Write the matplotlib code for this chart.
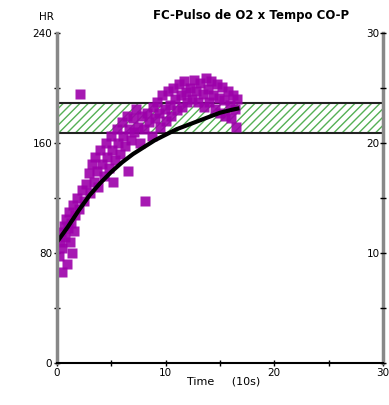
import numpy as np
import matplotlib.pyplot as plt

# HR samples (time in 10 s units, HR in bpm)
hr_time = [0.2, 0.3, 0.4, 0.5, 0.6, 0.7, 0.8, 0.9, 1.0, 1.1, 1.2, 1.3, 1.5, 1.6, 1.7, 1.8,
           2.0, 2.1, 0.5, 1.4, 2.3, 2.5,
           2.7, 2.9, 3.0, 3.2, 3.4, 3.5, 3.7, 3.8, 4.0, 4.1, 4.3, 4.5, 4.6, 4.8, 5.0, 5.1, 5.3,
           5.5, 5.6, 5.8, 6.0, 6.1, 6.3, 6.4, 6.6, 6.8, 7.0, 7.1, 7.3, 7.5, 7.6, 7.8, 8.0,
           8.1, 8.3, 8.5, 8.7, 8.8, 5.2, 6.5, 9.0,
           9.2, 9.4, 9.5, 9.7, 9.9, 10.0, 10.2, 10.4, 10.5, 10.7, 10.9, 11.0, 11.2, 11.4,
           11.5, 11.7, 11.9, 12.0, 12.2, 12.4, 12.6, 12.8, 13.0,
           13.2, 13.4, 13.5, 13.7, 13.9, 14.0, 14.2, 14.4, 14.5, 14.7, 14.9, 15.0, 15.2,
           15.4, 15.5, 15.7, 15.9, 16.0, 16.2, 16.4, 16.5, 16.6]
hr_vals = [78, 88, 95, 84, 100, 92, 105, 72, 98, 110, 88, 102, 115, 96, 108, 120,
           112, 196, 66, 80, 126, 118,
           130, 138, 124, 145, 132, 150, 140, 128, 155, 145, 136, 160, 150, 142, 165, 155, 148,
           170, 160, 152, 175, 165, 158, 180, 170, 162, 178, 168, 185, 172, 160, 180, 170,
           118, 182, 175, 165, 186, 132, 140, 178,
           190, 182, 172, 195, 185, 176, 198, 188, 180, 200, 192, 184, 203, 195,
           186, 205, 197, 190, 200, 192, 206, 198, 190,
           204, 196, 186, 207, 199, 190, 205, 195, 185, 203, 193, 182, 201,
           191, 180, 198, 188, 178, 195, 185, 172, 192]

# smoothed HR trend
fit_time = [0, 1, 2, 3, 4, 5, 6, 7, 8, 9, 10, 11, 12, 13, 14, 15, 16, 16.6]
fit_vals = [88, 99, 111, 122, 131, 139, 146, 152, 157, 162, 166, 170, 173, 176, 179, 182, 184, 185]

target_low, target_high = 167, 189

fig = plt.figure(figsize=(3.89, 4.05), dpi=100)
ax = fig.add_axes([0.1465, 0.1037, 0.838, 0.8148])

ax.axhspan(target_low, target_high, facecolor='white', edgecolor='#55b055',
           hatch='////', linewidth=0)
ax.axhline(target_low, color='#222222', lw=1.5)
ax.axhline(target_high, color='#222222', lw=1.5)

ax.plot(hr_time, hr_vals, 's', color='#9c00aa', ms=7, alpha=0.9, mec='none')
ax.plot(fit_time, fit_vals, color='black', lw=3)

ax.set_xlim(0, 30)
ax.set_ylim(0, 240)
ax.set_xticks(np.arange(0, 31, 5))
ax.set_xticklabels(['0', '', '10', '', '20', '', '30'], fontsize=7.5)
ax.set_yticks(np.arange(0, 241, 40))
ax.set_yticklabels(['0', '', '80', '', '160', '', '240'], fontsize=7.5)
ax.tick_params(direction='inout', length=5, width=1, pad=1)

ax.spines['top'].set_visible(False)
ax.spines['left'].set_color('#888888')
ax.spines['left'].set_linewidth(2.5)
ax.spines['right'].set_color('#888888')
ax.spines['right'].set_linewidth(2.5)
ax.spines['bottom'].set_linewidth(1.5)

ax2 = ax.twinx()
ax2.set_ylim(0, 30)
ax2.set_yticks(np.arange(0, 31, 5))
ax2.set_yticklabels(['', '', '10', '', '20', '', '30'], fontsize=7.5)
ax2.tick_params(direction='inout', length=5, width=1, pad=-5)
for lab in ax2.get_yticklabels():
    lab.set_horizontalalignment('right')
for s in ax2.spines.values():
    s.set_visible(False)

fig.text(0.645, 0.962, 'FC-Pulso de O2 x Tempo CO-P', ha='center', va='center',
         fontsize=8.5, fontweight='bold')
fig.text(0.10, 0.958, 'HR', ha='left', va='center', fontsize=7.5)
fig.text(0.575, 0.058, 'Time     (10s)', ha='center', va='center', fontsize=8)

fig.savefig('out.png', dpi=100)
